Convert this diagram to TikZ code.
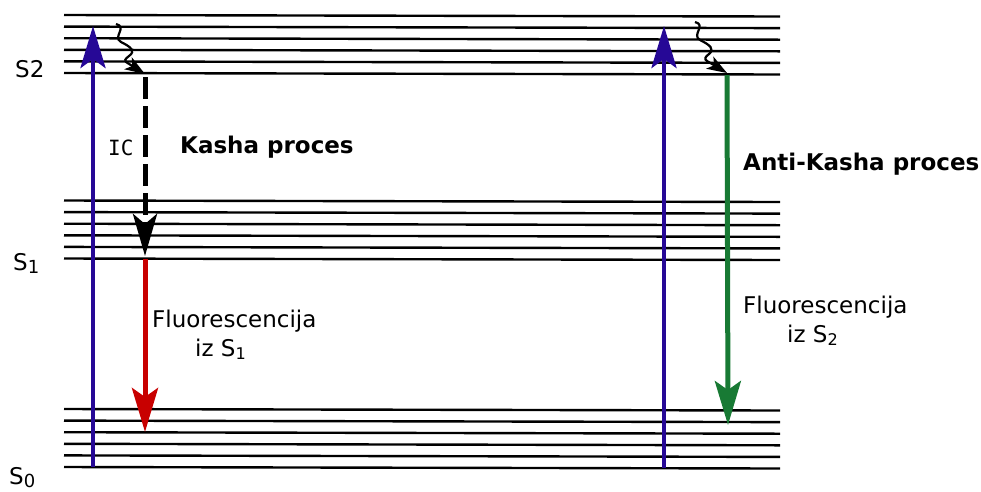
\documentclass[tikz,border=0pt]{standalone}
\usepackage{fontspec}
\setmainfont{DejaVu Sans}
\newfontfamily\icfont{DejaVu Sans Mono}
\usetikzlibrary{arrows.meta}

\definecolor{absblue}{RGB}{38,8,150}
\definecolor{fluored}{RGB}{200,0,0}
\definecolor{fluogreen}{RGB}{24,122,52}

\newcommand{\lowidx}[1]{\raisebox{-3pt}{\fontsize{18}{18}\selectfont #1}}

\begin{document}
\begin{tikzpicture}[x=1pt, y=-1pt,
    level/.style={line width=2.4pt, black},
    absorb/.style={-{Stealth[length=42pt, width=25pt, inset=9pt]},
                   line width=4.5pt, absblue},
    relax/.style={-{Stealth[length=20pt, width=14pt, inset=5pt]},
                  line width=2.2pt, black},
    ic/.style={-{Stealth[length=42pt, width=24pt, inset=10pt]},
               line width=5pt, black, dash pattern=on 22pt off 7pt},
    emit/.style={-{Stealth[length=44pt, width=26pt, inset=9pt]},
                 line width=5pt},
    lbl/.style={inner sep=0pt, anchor=base west, font=\fontsize{23}{27}\selectfont},
    title/.style={lbl, font=\fontsize{23}{27}\selectfont\bfseries},
]
\useasboundingbox (0,0) rectangle (981,491);

% --- vibrational levels of S2, S1, S0 ---
\foreach \base in {15, 200.5, 409} {
  \foreach \i in {0,...,5} {
    \draw[level] (64,\base+11.6*\i) -- (780,\base+11.6*\i+1.5);
  }
}

% --- state labels ---
\node[lbl] (s2lab) at (15,77) {S2};
\node[lbl] (s1lab) at (13,270) {S\lowidx{1}};
\node[lbl] (s0lab) at (9,484) {S\lowidx{0}};

% --- end points ---
\coordinate (gndL) at (93,467);
\coordinate (topL) at (93,26);
\coordinate (hotL) at (116,24);
\coordinate (s2L) at (145,74);
\coordinate (s1L) at (145,256);
\coordinate (s0L) at (145,432);
\coordinate (gndR) at (664,468);
\coordinate (topR) at (664,26);
\coordinate (hotR) at (695,22);
\coordinate (s2R) at (727,73);
\coordinate (s0R) at (728,425);

% --- Kasha (left) ---
\draw[absorb] (gndL) -- (topL);
\draw[relax] (hotL) .. controls (128,27) and (112,37) .. (121,42)
  .. controls (131,47) and (136,51) .. (129,56)
  .. controls (125,59) and (124,61) .. (126,62) -- (s2L);
\draw[ic] ([yshift=-3pt]s2L) -- (s1L);
\draw[emit, fluored] ([yshift=-3pt]s1L) -- (s0L);
\node[lbl, font=\fontsize{21}{26}\icfont] (iclab) at (108,155) {IC};
\node[title] (kasha) at (180,153) {Kasha proces};
\node[lbl] (fluoL) at (152,327) {Fluorescencija};
\node[lbl] (izL) at (195,356) {iz S\textsubscript{1}};

% --- Anti-Kasha (right) ---
\draw[absorb] (gndR) -- (topR);
\draw[relax] (hotR) .. controls (707,25) and (691,35) .. (700,40)
  .. controls (710,45) and (715,49) .. (709,54)
  .. controls (705,57) and (704,59) .. (707,61) -- (s2R);
\draw[emit, fluogreen] ([yshift=-2pt]s2R) -- (s0R);
\node[title] (antikasha) at (743,170) {Anti-Kasha proces};
\node[lbl] (fluoR) at (743,313) {Fluorescencija};
\node[lbl] (izR) at (787,342) {iz S\textsubscript{2}};

\end{tikzpicture}
\end{document}
